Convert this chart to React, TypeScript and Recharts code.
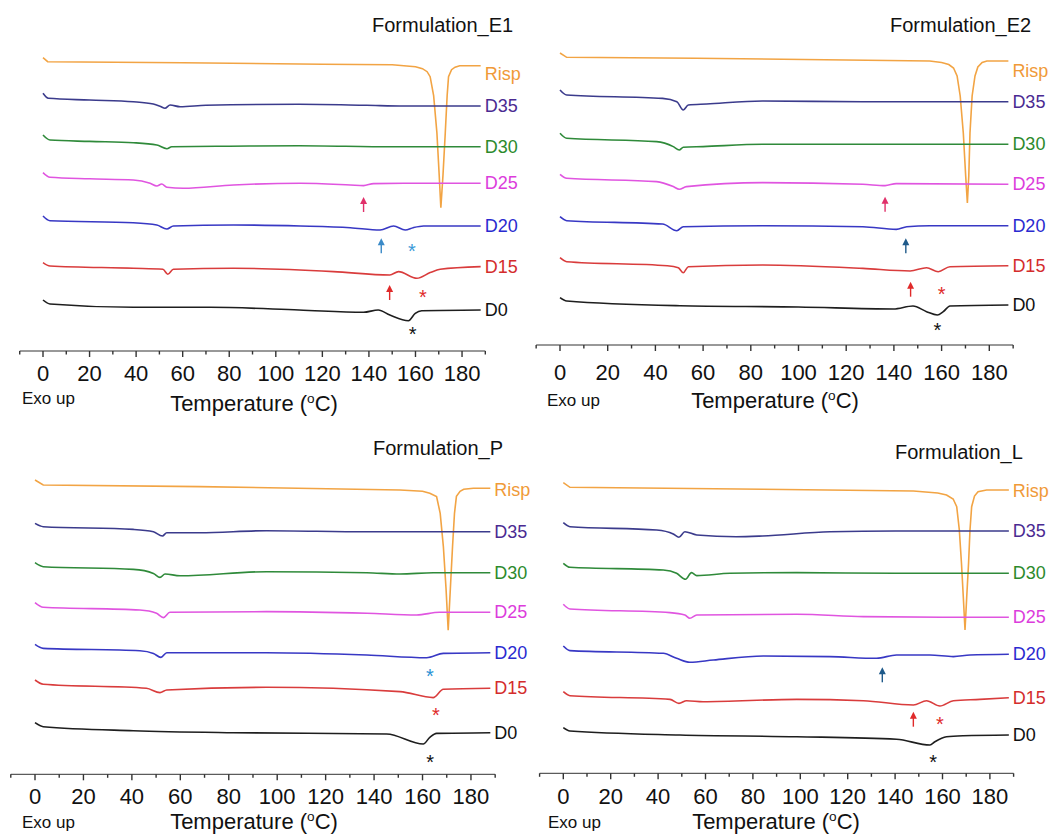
import React from "react";
import { LineChart, Line, XAxis, YAxis, ReferenceDot } from "recharts";

const FONT = "'Liberation Sans', Arial, Helvetica, sans-serif";

// series names, top to bottom
const SERIES = ["Risp", "D35", "D30", "D25", "D20", "D15", "D0"];
const LINE_COLORS = ["#f2a444", "#3b3b8c", "#2f8a3a", "#e055e0", "#3838c4", "#d93c3c", "#1e1e1e"];
const LABEL_COLORS = ["#f09a38", "#4a2a92", "#2c8a2c", "#dc3cdc", "#2a2ad0", "#d42c2c", "#111111"];

// temperature ticks (°C), majors every 20 get a label
const TICKS = [-10, 0, 10, 20, 30, 40, 50, 60, 70, 80, 90, 100, 110, 120, 130, 140, 150, 160, 170, 180, 190];

type Pt = [number, number];
type Note = { t: number; v: number; kind: "arrow" | "star"; color: string };

// heat flow (a.u.) relative to each trace's baseline, [temperature, value]
// ---- Formulation_E1
const E1_RISP: Pt[] = [[0, 8], [2, 4], [60, 3], [120, 1.5], [150, 1], [160, -1], [163, -3], [165, -6], [166.3, -11], [167.8, -30], [169.2, -67], [170.2, -110], [170.9, -142], [171.8, -110], [172.8, -67], [173.6, -30], [174.2, -11], [175.5, -4], [177, -1.5], [179, 0], [188, 0]];
const E1_D35: Pt[] = [[0, 12.7], [2.3, 7.7], [20, 6], [38.8, 4.3], [47.4, 2], [50.5, -0.5], [52.4, -2.3], [54.6, 1], [58.9, -0.7], [70, 0.7], [110, 1.7], [139, 0.7], [155, 0], [188, 0]];
const E1_D30: Pt[] = [[0, 11.7], [3, 6.7], [20, 5.3], [38.8, 4], [48.9, 1.7], [53.2, -2], [55.3, 0], [80, 0.5], [110, 1], [150, 0], [188, 0]];
const E1_D25: Pt[] = [[0, 10.7], [3, 6], [20, 4.5], [38.8, 3.3], [46, 0], [48.9, -2.7], [51, -0.7], [53.2, -4], [60.3, -5], [81.8, -1.7], [110.5, 0], [132, -1.7], [137.7, -2.3], [142, -0.3], [155, 0], [188, 0]];
const E1_D20: Pt[] = [[0, 10], [3, 5.3], [38.8, 3.3], [48.9, 1], [53.2, -3], [56, 0], [81.8, 1], [110.5, 0], [132, -1.7], [144.8, -4], [150.6, 0], [155.6, -4], [159, -1.7], [163.5, 0], [188, 0]];
const E1_D15: Pt[] = [[0, 5.7], [3, 2.3], [38.8, 0], [51.5, -1], [53.6, -6], [56, -1], [81.8, 0], [124.8, -3.3], [149, -6.7], [152.7, -3.3], [160.6, -10], [166.3, -4.3], [170.6, -1], [188, 1.7]];
const E1_D0: Pt[] = [[0, 10], [3, 6], [38.8, 2.7], [71.8, 2.7], [110, 0], [137.7, -2.3], [144, 0], [149, -5], [157, -10.7], [159.9, -3.3], [162.7, -0.7], [188, 0]];
const E1_OFFSETS = [285.3, 245, 204.3, 167.7, 125, 82.7, 41];
const E1_NOTES: Note[] = [
  { t: 137.7, v: 154, kind: "arrow", color: "#e0306a" },
  { t: 145.3, v: 112.7, kind: "arrow", color: "#3a8ac8" },
  { t: 158.5, v: 104.3, kind: "star", color: "#3a9ad8" },
  { t: 148.9, v: 66, kind: "arrow", color: "#e02a2a" },
  { t: 163.2, v: 57.7, kind: "star", color: "#e02a2a" },
  { t: 158.8, v: 21, kind: "star", color: "#111" },
];

// ---- Formulation_E2
const E2_RISP: Pt[] = [[0, 8], [2.8, 3.7], [57, 2.7], [120, 1], [155, 0], [160, -1.5], [163, -3.5], [165, -7], [166.5, -15], [167.8, -35], [169.1, -72], [170.1, -115], [170.8, -142], [171.4, -115], [171.9, -72], [172.8, -35], [174, -15], [175.2, -6], [177, -1.5], [179, 0], [188, 0]];
const E2_D35: Pt[] = [[0, 11.7], [2.8, 6.7], [43, 3.3], [49, 0], [51.7, -8.3], [53.8, -3.3], [61.5, -2.3], [85, 0.7], [127, 0], [188, 0]];
const E2_D30: Pt[] = [[0, 11], [2.8, 6], [40.5, 2.7], [47.5, -2.3], [50, -5.7], [51.7, -3], [60, -2.3], [85, 0], [188, 0]];
const E2_D25: Pt[] = [[0, 10], [2.8, 6], [40.5, 2.7], [47.5, -2.3], [50, -5], [53, -2.3], [85, 1.7], [127, 0], [136.3, -1.3], [141, 0.7], [188, 0]];
const E2_D20: Pt[] = [[0, 9], [2.8, 5], [43, 1.7], [49, -5], [51.7, -1], [85, 0], [127, -1], [141, -3.7], [145.4, -1], [155, 0], [188, 0]];
const E2_D15: Pt[] = [[0, 8], [2.8, 4], [45, 0], [49.6, -2], [51.7, -7], [53.8, -1], [85, 0.7], [127, -2.7], [146.8, -5.3], [153.7, -2], [158.6, -6], [163.5, -1], [188, 0]];
const E2_D0: Pt[] = [[0, 7.3], [2.8, 4], [50.3, -0.7], [100, -2], [139.8, -4], [148, -1], [153.7, -6.7], [158.2, -10], [160.7, -6.7], [163.5, -1], [188, 0]];
const E2_OFFSETS = [284, 243.3, 200.7, 160.7, 119.3, 79.3, 40];
const E2_NOTES: Note[] = [
  { t: 136.3, v: 148.3, kind: "arrow", color: "#e0306a" },
  { t: 145, v: 106.7, kind: "arrow", color: "#1f5a8a" },
  { t: 147, v: 63.3, kind: "arrow", color: "#e02a2a" },
  { t: 160, v: 55, kind: "star", color: "#e02a2a" },
  { t: 158.2, v: 19.5, kind: "star", color: "#111" },
];

// ---- Formulation_P
const P_RISP: Pt[] = [[0, 8.3], [3.4, 3.3], [68, 1.7], [150.7, -1.7], [160, -3], [163, -5], [165.8, -8.3], [167.3, -25], [168.6, -58], [169.7, -100], [170.6, -142], [171.5, -100], [172.4, -58], [173.2, -25], [174, -8], [175.5, -3], [177, -1], [181, 0], [188, 0]];
const P_D35: Pt[] = [[0, 8.3], [3.4, 5], [40.6, 2.3], [48.9, 0], [52.6, -4.3], [54.4, -1], [68, -1], [95.6, 1], [137, 0], [188, 0]];
const P_D30: Pt[] = [[0, 10], [3.4, 6], [40.6, 3.3], [48.9, -0.7], [51.6, -4.7], [53.7, -1.3], [59.9, -3], [95.6, 1], [137, 0], [150.7, -1.3], [164.4, 0], [188, 0]];
const P_D25: Pt[] = [[0, 9.7], [3.4, 5], [43.3, 2.3], [50.2, -1], [53, -5.3], [55.7, 0], [95.6, 0.7], [137, -1], [157.6, -2.7], [167, 0], [188, 0]];
const P_D20: Pt[] = [[0, 8.3], [3.4, 4.3], [43.3, 2], [48.9, -0.7], [52, -4.7], [54.4, 0], [95.6, 0], [137, -2.3], [161.7, -5], [168.6, -0.7], [188, 0]];
const P_D15: Pt[] = [[0, 8.3], [3.4, 4], [46, 0], [51.6, -4.3], [54.4, -1.7], [95.6, 1], [150.7, -3.3], [164.4, -9.3], [168.6, -1], [188, 0]];
const P_D0: Pt[] = [[0, 10], [3.4, 6], [40.6, 2], [81.9, 0], [145.2, -1.3], [160.3, -11.3], [163, -4.7], [165.8, -0.7], [188, 0]];
const P_OFFSETS = [286, 242.6, 201.6, 162, 121.6, 86, 41.6];
const P_NOTES: Note[] = [
  { t: 163, v: 102, kind: "star", color: "#2a92d4" },
  { t: 165.5, v: 63.3, kind: "star", color: "#e02a2a" },
  { t: 163.1, v: 16.8, kind: "star", color: "#111" },
];

// ---- Formulation_L
const L_RISP: Pt[] = [[0, 7.3], [2.8, 2.7], [84, 0.7], [147.7, -1], [158, -3], [161.7, -5], [164.5, -9], [166, -16.7], [167.1, -40], [168, -73], [168.8, -108], [169.5, -140], [170.2, -108], [171, -73], [171.6, -40], [172.3, -16.7], [173.5, -6], [175, -1.7], [178.6, 0], [188, 0]];
const L_D35: Pt[] = [[0, 8.3], [2.8, 4.3], [39.4, 1], [46.4, -3], [48.8, -6.3], [51.3, -0.7], [56.3, -4], [73, -5.7], [84, -5], [112.5, -0.7], [140, 0], [188, 0]];
const L_D30: Pt[] = [[0, 10], [2.8, 6], [42.2, 3.3], [47.8, 0], [51.6, -6], [54.1, 0.7], [56.3, -2.3], [70.3, 0], [98.5, 0.7], [140, 0], [188, 0]];
const L_D25: Pt[] = [[0, 13], [2.8, 8.3], [45, 4.7], [51.3, 2.3], [53.4, -1], [56.3, 2.3], [98.5, 3], [126.6, 0.7], [160, 0], [188, 0]];
const L_D20: Pt[] = [[0, 8.3], [2.8, 3.7], [42.2, 1], [47.8, -4], [53.4, -8], [63.3, -5.7], [84.4, -1.7], [112.5, -2.3], [132.2, -4], [140.6, -0.7], [154.7, -0.7], [164.6, -2.3], [171.6, -0.7], [188, 0]];
const L_D15: Pt[] = [[0, 6], [2.8, 2], [45, -1.7], [48.8, -5.7], [52, -3], [59, -4], [98.5, -1.7], [126.6, -3], [147.7, -7.3], [153.3, -3], [158.9, -8.3], [164.6, -3], [175.8, -1.7], [188, 0]];
const L_D0: Pt[] = [[0, 7.3], [2.8, 4], [49.2, 0], [98.5, -1.7], [140.6, -4.3], [154.7, -10], [156.8, -6.7], [161.7, -1.7], [168.8, -0.7], [188, 0]];
const L_OFFSETS = [283.3, 242.3, 200, 156, 119, 75.6, 38.3];
const L_NOTES: Note[] = [
  { t: 134.6, v: 106, kind: "arrow", color: "#1f5a8a" },
  { t: 147.7, v: 61.6, kind: "arrow", color: "#e02a2a" },
  { t: 158.9, v: 53.3, kind: "star", color: "#e02a2a" },
  { t: 156.1, v: 15, kind: "star", color: "#111" },
];

const PANELS = [
  { title: "Formulation_E1", curves: [E1_RISP, E1_D35, E1_D30, E1_D25, E1_D20, E1_D15, E1_D0], offsets: E1_OFFSETS, notes: E1_NOTES,
    left: 0, top: 0, width: 529, height: 418, zeroX: 43, ppd: 2.328, axisY: 351, tickGap: 22, rispDy: 8,
    titleX: 372, titleY: 25, exoX: 22, exoY: 398, tempX: 254, tempY: 404 },
  { title: "Formulation_E2", curves: [E2_RISP, E2_D35, E2_D30, E2_D25, E2_D20, E2_D15, E2_D0], offsets: E2_OFFSETS, notes: E2_NOTES,
    left: 530, top: 0, width: 528, height: 418, zeroX: 560, ppd: 2.385, axisY: 345, tickGap: 27, rispDy: 10,
    titleX: 890, titleY: 25, exoX: 547, exoY: 400, tempX: 775, tempY: 401 },
  { title: "Formulation_P", curves: [P_RISP, P_D35, P_D30, P_D25, P_D20, P_D15, P_D0], offsets: P_OFFSETS, notes: P_NOTES,
    left: 0, top: 419, width: 548, height: 418, zeroX: 35, ppd: 2.422, axisY: 774.3, tickGap: 22.5, rispDy: 2,
    titleX: 373, titleY: 448, exoX: 22, exoY: 822, tempX: 254, tempY: 822 },
  { title: "Formulation_L", curves: [L_RISP, L_D35, L_D30, L_D25, L_D20, L_D15, L_D0], offsets: L_OFFSETS, notes: L_NOTES,
    left: 530, top: 419, width: 528, height: 418, zeroX: 563.3, ppd: 2.37, axisY: 773.3, tickGap: 23.5, rispDy: 1,
    titleX: 895, titleY: 452, exoX: 548, exoY: 822, tempX: 776, tempY: 822 },
];

const AxisTick = (props: any) => {
  const { x, y, payload, gap } = props;
  const v = payload.value;
  const major = v % 20 === 0 && v >= 0 && v <= 180;
  return (
    <g>
      <line x1={x} x2={x} y1={y} y2={y + (major ? 6 : 3.5)} stroke="#333" strokeWidth={1.4} />
      {major && (
        <text x={x} y={y + gap} textAnchor="middle" dominantBaseline="central" fontSize={22} fill="#111" fontFamily={FONT}>
          {v}
        </text>
      )}
    </g>
  );
};

const noteShape = (n: Note) => (p: any) => {
  const { cx, cy } = p;
  if (n.kind === "arrow") {
    return (
      <g>
        <line x1={cx} x2={cx} y1={cy + 5} y2={cy + 15} stroke={n.color} strokeWidth={1.4} />
        <polygon points={`${cx},${cy} ${cx - 3.5},${cy + 7} ${cx + 3.5},${cy + 7}`} fill={n.color} />
      </g>
    );
  }
  return (
    <text x={cx} y={cy + 11} textAnchor="middle" fontSize={20} fill={n.color} fontFamily={FONT}>
      *
    </text>
  );
};

// positioned html text (cy = visual center of capitals)
const Txt = ({ x, cy, fs, center, children }: any) => (
  <div
    style={{
      position: "absolute",
      left: x,
      top: cy - 0.49 * fs,
      fontSize: fs,
      lineHeight: 1,
      whiteSpace: "nowrap",
      color: "#111",
      transform: center ? "translateX(-50%)" : undefined,
    }}
  >
    {children}
  </div>
);

function Panel({ cfg }: any) {
  const mt = 40;
  const axisH = 60;
  const ml = cfg.zeroX - 10 * cfg.ppd - cfg.left;
  const mr = cfg.left + cfg.width - (cfg.zeroX + 190 * cfg.ppd);
  const mb = cfg.top + cfg.height - cfg.axisY - axisH;
  const yMax = cfg.axisY - (cfg.top + mt);

  return (
    <div style={{ position: "absolute", left: cfg.left, top: cfg.top }}>
      <LineChart width={cfg.width} height={cfg.height} margin={{ top: mt, right: mr, bottom: mb, left: ml }}>
        <XAxis
          type="number"
          dataKey="t"
          domain={[-10, 190]}
          ticks={TICKS}
          interval={0}
          tickSize={0}
          tickMargin={0}
          height={axisH}
          stroke="#333"
          tickLine={false}
          tick={<AxisTick gap={cfg.tickGap} />}
        />
        <YAxis hide type="number" domain={[0, yMax]} />
        {SERIES.map((name, i) => {
          const pts: Pt[] = cfg.curves[i];
          const data = pts.map(([t, d]) => ({ t, v: cfg.offsets[i] + d }));
          const dy = i === 0 ? cfg.rispDy : 0;
          return (
            <Line
              key={name}
              data={data}
              dataKey="v"
              type={i === 0 ? "linear" : "monotone"}
              stroke={LINE_COLORS[i]}
              strokeWidth={1.6}
              dot={false}
              isAnimationActive={false}
              label={(p: any) =>
                p.index === data.length - 1 ? (
                  <text
                    key={name}
                    x={p.x + 4}
                    y={p.y + dy}
                    dominantBaseline="central"
                    fontSize={18}
                    fill={LABEL_COLORS[i]}
                    fontFamily={FONT}
                  >
                    {name}
                  </text>
                ) : null
              }
            />
          );
        })}
        {cfg.notes.map((n: Note, k: number) => (
          <ReferenceDot key={k} x={n.t} y={n.v} r={0} ifOverflow="visible" shape={noteShape(n)} />
        ))}
      </LineChart>
    </div>
  );
}

export default function App() {
  return (
    <div
      style={{
        position: "absolute",
        left: 0,
        top: 0,
        width: 1058,
        height: 837,
        background: "#fff",
        fontFamily: FONT,
        overflow: "hidden",
      }}
    >
      {PANELS.map((cfg) => (
        <Panel key={cfg.title} cfg={cfg} />
      ))}
      {PANELS.map((cfg) => (
        <React.Fragment key={cfg.title + "-txt"}>
          <Txt x={cfg.titleX} cy={cfg.titleY} fs={20}>{cfg.title}</Txt>
          <Txt x={cfg.exoX} cy={cfg.exoY} fs={17}>Exo up</Txt>
          <Txt x={cfg.tempX} cy={cfg.tempY} fs={22} center>
            Temperature (
            <span style={{ fontSize: "0.62em", position: "relative", top: "-0.6em" }}>o</span>
            C)
          </Txt>
        </React.Fragment>
      ))}
    </div>
  );
}
